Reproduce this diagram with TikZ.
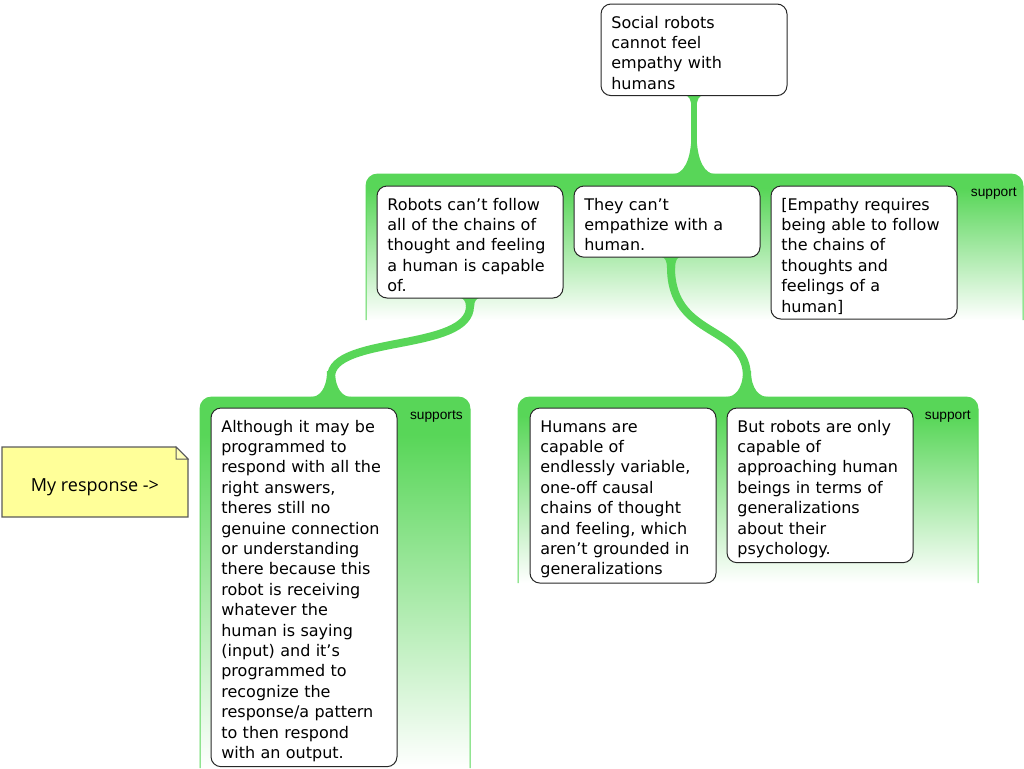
\documentclass[tikz,border=0pt]{standalone}
\usepackage{fontspec}
\newfontfamily\dejavu{DejaVu Sans}
\newfontfamily\libsans{Liberation Sans}
\newfontfamily\notefont{Open Sans}
\definecolor{gG}{RGB}{88,214,88}
\definecolor{noteY}{RGB}{255,255,153}
\definecolor{noteE}{RGB}{90,90,90}
\definecolor{edgeC}{RGB}{40,40,40}
\pgfdeclareverticalshading{gfade}{100bp}{color(0bp)=(white); color(25bp)=(white); color(70bp)=(gG); color(100bp)=(gG)}
\pgfdeclarelayer{bg}
\pgfdeclarelayer{mid}
\pgfsetlayers{bg,mid,main}
\newcommand\topst{\rule{0pt}{14.3pt}}
\newcommand\botst{\rule[-1.1pt]{0pt}{1pt}}
\newcommand\greengroup[4]{%
  \shade[shading=gfade] (#1,#4) -- (#1,{#2+12}) .. controls (#1,{#2+5}) and ({#1+5},#2) .. ({#1+12},#2) -- ({#3-12},#2) .. controls ({#3-5},#2) and (#3,{#2+5}) .. (#3,{#2+12}) -- (#3,#4) -- cycle;
  \draw[gedge] (#1,#4) -- (#1,{#2+12}) .. controls (#1,{#2+5}) and ({#1+5},#2) .. ({#1+12},#2) -- ({#3-12},#2) .. controls ({#3-5},#2) and (#3,{#2+5}) .. (#3,{#2+12}) -- (#3,#4);
}
\tikzset{
  box/.style={draw=edgeC, line width=0.75pt, fill=white, rounded corners=7.5pt,
    anchor=north west, align=left, text width=124pt, inner xsep=7.75pt, inner ysep=3.7pt,
    outer sep=0pt, font=\dejavu\fontsize{12pt}{15.3pt}\selectfont},
  grplabel/.style={anchor=east, inner sep=0pt, font=\libsans\fontsize{10.3pt}{12pt}\selectfont},
  gedge/.style={draw=gG, line width=0.75pt},
  connline/.style={draw=gG, line width=3.9pt},
  sconn/.style={draw=gG, line width=6pt},
  % fillet hanging below a surface; args: half width, rx, ry
  pics/flaredown/.style n args={3}{code={
    \fill[gG] ({-#1-#2},-1) -- ({-#1-#2},0) .. controls ({-#1-0.5*#2},0) and ({-#1},{0.3*#3}) .. ({-#1},#3)
      -- (#1,#3) .. controls (#1,{0.3*#3}) and ({#1+0.5*#2},0) .. ({#1+#2},0) -- ({#1+#2},-1) -- cycle;
  }},
  % fillet standing on a surface; args: half width, rx, ry
  pics/flareup/.style n args={3}{code={
    \fill[gG] ({-#1-#2},1) -- ({-#1-#2},0) .. controls ({-#1-0.5*#2},0) and ({-#1},{-0.3*#3}) .. ({-#1},{-#3})
      -- (#1,{-#3}) .. controls (#1,{-0.3*#3}) and ({#1+0.5*#2},0) .. ({#1+#2},0) -- ({#1+#2},1) -- cycle;
  }}
}
\begin{document}
\begin{tikzpicture}[x=0.75pt,y=-0.75pt]
\useasboundingbox (0,0) rectangle (1024,768);

% argument nodes
\node[box] (T) at (601,4) {\topst Social robots\\cannot feel\\empathy with\\humans\botst};
\node[box] (A) at (377,186) {\topst Robots can’t follow\\all of the chains of\\thought and feeling\\a human is capable\\of.\botst};
\node[box] (B) at (574,186) {\topst They can’t\\empathize with a\\human.\botst};
\node[box] (C) at (771,186) {\topst [Empathy requires\\being able to follow\\the chains of\\thoughts and\\feelings of a\\human]\botst};
\node[box] (D) at (211,408) {\topst Although it may be\\programmed to\\respond with all the\\right answers,\\theres still no\\genuine connection\\or understanding\\there because this\\robot is receiving\\whatever the\\human is saying\\(input) and it’s\\programmed to\\recognize the\\response/a pattern\\to then respond\\with an output.\botst};
\node[box] (E) at (530,408) {\topst Humans are\\capable of\\endlessly variable,\\one-off causal\\chains of thought\\and feeling, which\\aren’t grounded in\\generalizations\botst};
\node[box] (F) at (727,408) {\topst But robots are only\\capable of\\approaching human\\beings in terms of\\generalizations\\about their\\psychology.\botst};

% group labels
\node[grplabel] (L1) at (1017,193) {support};
\node[grplabel] (L2) at (463,416) {supports};
\node[grplabel] (L3) at (971,416) {support};

% note
\draw[fill=noteY, draw=noteE, line width=0.9pt] (2,447) -- (176,447) -- (188,459) -- (188,517) -- (2,517) -- cycle;
\draw[fill=noteY!70!white, draw=noteE, line width=0.75pt] (176,447) -- (176,459) -- (188,459) -- cycle;
\node[font=\notefont\fontsize{13.5pt}{16pt}\selectfont, inner sep=0pt] (N) at (95,487) {My response ->};

% group backgrounds
\begin{pgfonlayer}{bg}
  \greengroup{366}{174}{1023}{320}
  \greengroup{200}{397}{470}{768}
  \greengroup{518}{397}{978}{583}
\end{pgfonlayer}

% connectors
\coordinate (g1c) at (694,174);
\coordinate (g2c) at (331,397);
\coordinate (g3c) at (747,397);
\coordinate (bs) at ([xshift=3pt]B.south);
\begin{pgfonlayer}{mid}
  \draw[connline] (T.south) -- (g1c);
  \pic at (T.south) {flaredown={2.6}{6}{12}};
  \pic at (g1c) {flareup={2.6}{18}{40}};
  \draw[sconn] (A.south) -- ++(0,8) .. controls (470,352) and (331,335) .. ++(-139,71) -- (g2c);
  \pic at (A.south) {flaredown={4}{6}{9}};
  \pic at (g2c) {flareup={4}{16}{26}};
  \draw[sconn] (bs) -- ++(0,10) .. controls +(0,72) and (747,324) .. (747,377) -- (g3c);
  \pic at (bs) {flaredown={4}{5}{11}};
  \pic at (g3c) {flareup={4}{17}{26}};
\end{pgfonlayer}
\end{tikzpicture}
\end{document}
